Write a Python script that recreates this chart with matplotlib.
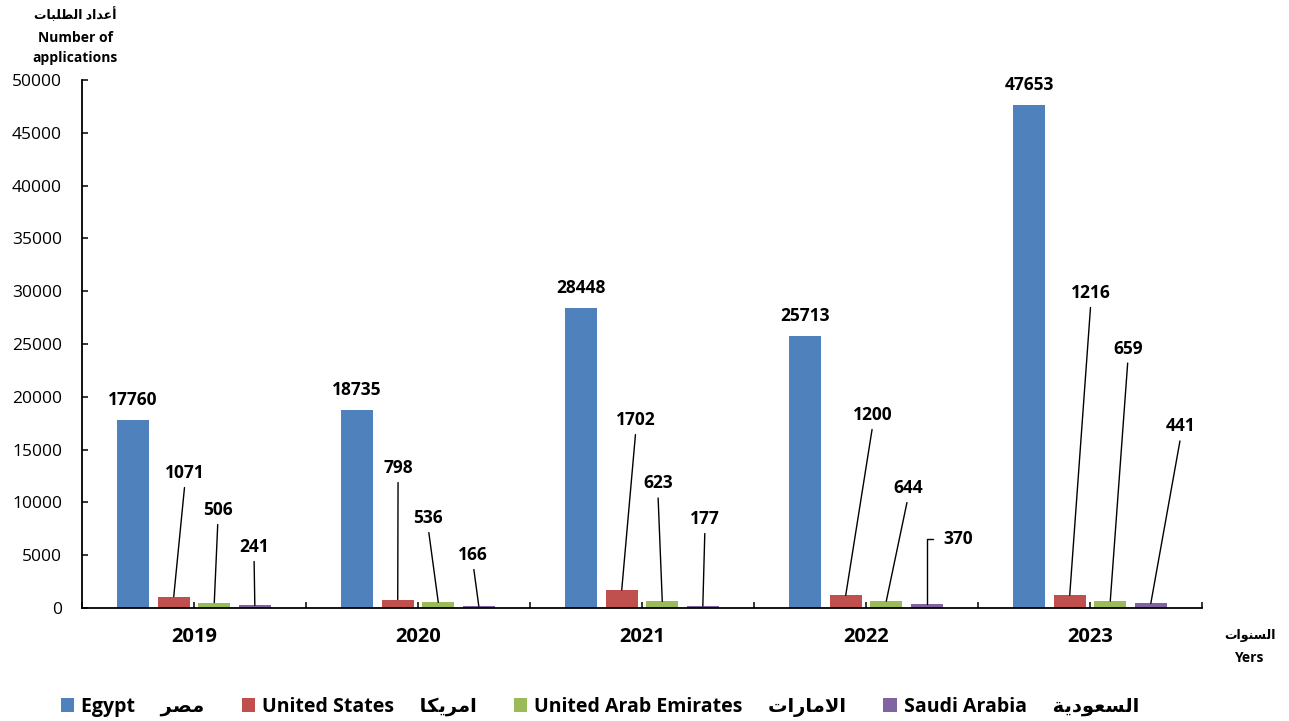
import matplotlib.pyplot as plt
import matplotlib.patches as mpatches
import numpy as np

# ── Data ───────────────────────────────────────────────────
YEARS = ["2019", "2020", "2021", "2022", "2023"]
EGYPT = [17760, 18735, 28448, 25713, 47653]
USA = [1071, 798, 1702, 1200, 1216]
UAE = [506, 536, 623, 644, 659]
KSA = [241, 166, 177, 370, 441]

SERIES_EN = ["Egypt", "United States", "United Arab Emirates", "Saudi Arabia"]
SERIES_AR = ["مصر", "امريكا", "الامارات", "السعودية"]

# label layout for the small bars: (offset from group centre, height in data units)
USA_LBL = [(-0.040, 12780), (-0.089, 13260), (-0.027, 17800), (0.031, 18280), (0.004, 29830)]
UAE_LBL = [(0.107, 9280), (0.045, 8520), (0.071, 11790), (0.188, 11360), (0.170, 24570)]
KSA_LBL = [(0.268, 5780), (0.246, 5020), (0.281, 8430), (0.344, 6580), (0.406, 17190)]

# ── Style ──────────────────────────────────────────────────
BLUE = "#4F81BD"
RED = "#C0504D"
GREEN = "#9BBB59"
PURPLE = "#8064A2"
COLORS = [BLUE, RED, GREEN, PURPLE]

FONT = ["Open Sans", "DejaVu Sans"]
plt.rcParams["font.family"] = FONT


# matplotlib does no Arabic shaping, so pick presentation forms by hand
FORMS = {
    "ا": ("\uFE8D", "\uFE8E", None, None),
    "أ": ("\uFE83", "\uFE84", None, None),
    "ب": ("\uFE8F", "\uFE90", "\uFE91", "\uFE92"),
    "ة": ("\uFE93", "\uFE94", None, None),
    "ت": ("\uFE95", "\uFE96", "\uFE97", "\uFE98"),
    "د": ("\uFEA9", "\uFEAA", None, None),
    "ر": ("\uFEAD", "\uFEAE", None, None),
    "س": ("\uFEB1", "\uFEB2", "\uFEB3", "\uFEB4"),
    "ص": ("\uFEB9", "\uFEBA", "\uFEBB", "\uFEBC"),
    "ط": ("\uFEC1", "\uFEC2", "\uFEC3", "\uFEC4"),
    "ع": ("\uFEC9", "\uFECA", "\uFECB", "\uFECC"),
    "ك": ("\uFED9", "\uFEDA", "\uFEDB", "\uFEDC"),
    "ل": ("\uFEDD", "\uFEDE", "\uFEDF", "\uFEE0"),
    "م": ("\uFEE1", "\uFEE2", "\uFEE3", "\uFEE4"),
    "ن": ("\uFEE5", "\uFEE6", "\uFEE7", "\uFEE8"),
    "و": ("\uFEED", "\uFEEE", None, None),
    "ي": ("\uFEF1", "\uFEF2", "\uFEF3", "\uFEF4"),
    "لا": ("\uFEFB", "\uFEFC", None, None),
}


def ar(text):
    units = []
    i = 0
    while i < len(text):
        if text[i] == "ل" and i + 1 < len(text) and text[i + 1] == "ا":
            units.append("لا")
            i += 2
        else:
            units.append(text[i])
            i += 1
    out = []
    for k, u in enumerate(units):
        if u not in FORMS:
            out.append(u)
            continue
        prev_joins = k > 0 and units[k - 1] in FORMS and FORMS[units[k - 1]][2] is not None
        next_joins = (FORMS[u][2] is not None and k + 1 < len(units) and units[k + 1] in FORMS)
        iso, fin, ini, med = FORMS[u]
        if prev_joins and next_joins:
            out.append(med)
        elif prev_joins:
            out.append(fin)
        elif next_joins:
            out.append(ini)
        else:
            out.append(iso)
    return "".join(out)[::-1]


# ── Figure ─────────────────────────────────────────────────
fig = plt.figure(figsize=(12.89, 7.21), dpi=100)
ax = fig.add_axes([82 / 1289, 1 - 608 / 721, 1120 / 1289, 528 / 721])

x = np.arange(len(YEARS))
width = 0.143
step = 0.181
all_series = [EGYPT, USA, UAE, KSA]
bars = []
for k, (vals, col) in enumerate(zip(all_series, COLORS)):
    b = ax.bar(x + (k - 1.5) * step, vals, width, color=col, zorder=2)
    bars.append(b)

ax.set_xlim(-0.5, 4.5)
ax.set_ylim(0, 50000)
ax.set_yticks(np.arange(0, 50001, 5000))
ax.set_xticks(x)
ax.set_xticklabels(YEARS, fontweight="bold", fontsize=14.5)
ax.set_xticks(np.arange(-0.5, 5, 1), minor=True)
ax.tick_params(axis="y", direction="in", length=4.3, width=1.1, pad=14.4, labelsize=12.5)
ax.tick_params(axis="x", which="both", direction="in", length=4.3, width=1.1, pad=14)
ax.spines["top"].set_visible(False)
ax.spines["right"].set_visible(False)
for s in ("left", "bottom"):
    ax.spines[s].set_linewidth(1.3)

# Egypt labels sit right on top of the bars
for b, val in zip(bars[0], EGYPT):
    ax.annotate(f"{val}", (b.get_x() + b.get_width() / 2, val), xytext=(0, 14.4),
                textcoords="offset points", ha="center", va="center",
                fontsize=12.5, fontweight="bold")

# the others get leader lines
for k, (vals, lbls) in enumerate(zip([USA, UAE, KSA], [USA_LBL, UAE_LBL, KSA_LBL]), start=1):
    for i, (b, val, (dx, ly)) in enumerate(zip(bars[k], vals, lbls)):
        bx = b.get_x() + b.get_width() / 2
        if k == 3 and i == 3:
            ax.annotate(f"{val}", (bx, val), xytext=(i + dx, ly), textcoords="data",
                        ha="left", va="center", fontsize=12.5, fontweight="bold",
                        arrowprops=dict(arrowstyle="-", color="black", lw=1,
                                        shrinkA=5, shrinkB=0, relpos=(0, 0.5),
                                        connectionstyle="angle,angleA=0,angleB=90,rad=0"))
        else:
            ax.annotate(f"{val}", (bx, val), xytext=(i + dx, ly), textcoords="data",
                        ha="center", va="center", fontsize=12.5, fontweight="bold",
                        arrowprops=dict(arrowstyle="-", color="black", lw=1,
                                        shrinkA=2, shrinkB=0, relpos=(0.5, 0)))

# axis titles
fig.text(75 / 1289, 1 - 15 / 721, ar("أعداد الطلبات"), ha="center", va="center",
         fontsize=9, fontweight="bold")
fig.text(75 / 1289, 1 - 38 / 721, "Number of", ha="center", va="center",
         fontsize=10, fontweight="bold")
fig.text(75 / 1289, 1 - 58 / 721, "applications", ha="center", va="center",
         fontsize=10, fontweight="bold")
fig.text(1250 / 1289, 1 - 636 / 721, ar("السنوات"), ha="center", va="center",
         fontsize=9, fontweight="bold")
fig.text(1249 / 1289, 1 - 658 / 721, "Yers", ha="center", va="center",
         fontsize=10, fontweight="bold")

# legend
handles = [mpatches.Patch(facecolor=c) for c in COLORS]
labels = [f"{en}     {ar(a)}" for en, a in zip(SERIES_EN, SERIES_AR)]
fig.legend(handles, labels, loc="center", bbox_to_anchor=(600 / 1289, 1 - 707 / 721),
           ncol=4, frameon=False, prop={"weight": "bold", "size": 14},
           handlelength=0.7, handleheight=0.7, handletextpad=0.36, columnspacing=1.9)

plt.savefig("out.png", dpi=100)
plt.close()
